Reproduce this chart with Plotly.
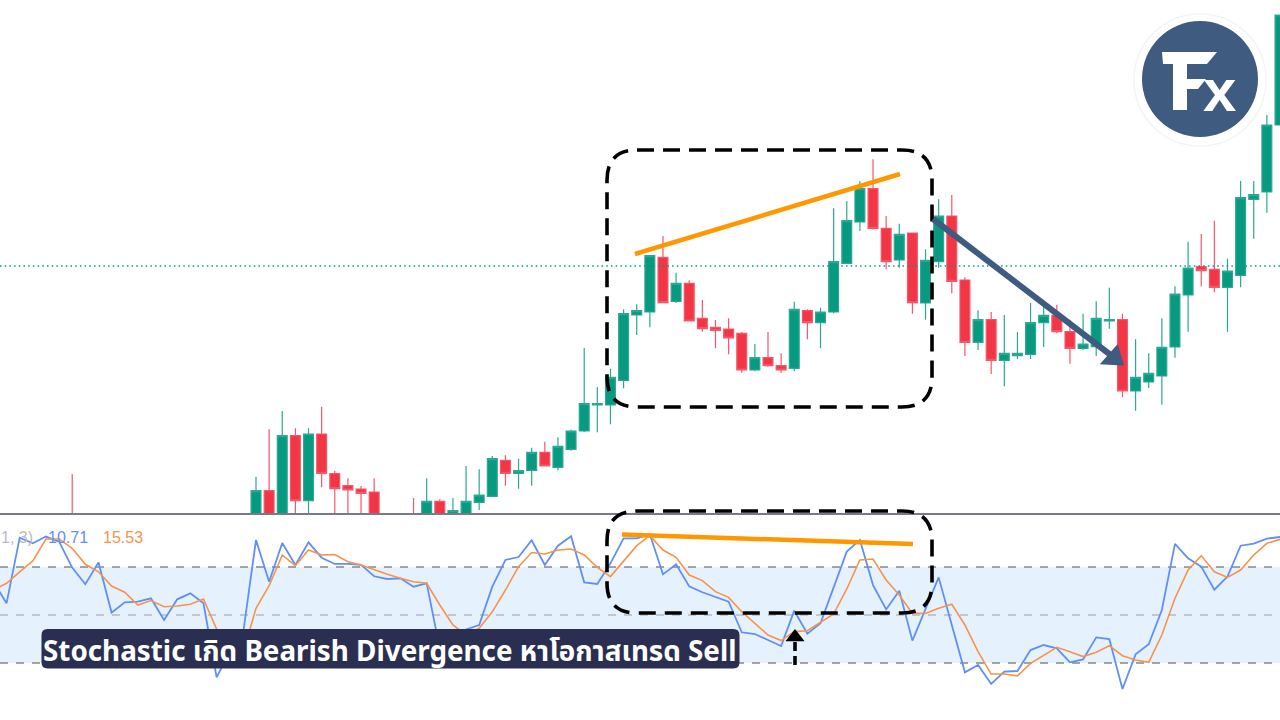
import plotly.graph_objects as go
from plotly.subplots import make_subplots

# ==========================================
# DATA (price is in chart units, stochastic in percent)
# ==========================================
CANDLE_X = [-14] + list(range(79))

OPENS = [-5,
    -15, 23.3, -20, 78.3, 13.3, 80, 40.3, 28.3, 25, 22,
    -25, -20, -5, -20, 12.7, -6, -2, 11.7, 17.7, 53.7,
    40.7, 43.7, 61.7, 46.7, 64.7, 83, 109, 109, 133.7, 199,
    202, 256.7, 212.7, 230.7, 195.7, 186.7, 185, 180.7, 144, 156.3,
    148.3, 145.7, 203.3, 191.3, 202, 250.7, 292, 325.3, 285.7, 254,
    281, 211, 252.3, 298, 234, 171.7, 194.3, 153.7, 158.3, 159.7,
    191.3, 198.7, 182.3, 165.7, 167.3, 193, 194.3, 123, 132, 138,
    167, 219, 247.3, 244.7, 226.7, 238.7, 314.7, 322, 389]
CLOSES = [-25,
    23.3, -20, 78.3, 13.3, 80, 40.7, 25.3, 24, 20.7, -10,
    -15, -16, -20, 12.7, -6, 3.3, 12.7, 19, 55.3, 40.7,
    43.3, 61.7, 48, 67.7, 83, 110.3, 110.3, 136.7, 200.3, 203.3,
    258.3, 211.3, 230.7, 193, 185.3, 183.7, 176, 144, 156.3, 148.3,
    144, 204.7, 191.3, 202, 252.3, 293.3, 325.3, 285.7, 252.3, 279.7,
    211.3, 253.7, 298, 232.7, 171.7, 194.3, 153.7, 160.7, 160.7, 191.3,
    198.7, 182.3, 165.7, 170, 195.7, 194.3, 123, 136.7, 140.7, 166.7,
    220, 246, 243.3, 226.7, 243, 316.3, 319.3, 389, 499]
HIGHS = [40,
    37.3, 84.7, 103, 85.7, 85.7, 107.3, 43.3, 35.7, 28, 35.7,
    -12, -12, 16, 35.7, 14.7, 16, 48, 44.7, 58, 58.7,
    55.3, 66.3, 72.3, 76.7, 84.3, 166, 127, 145.3, 204.7, 209.7,
    258.3, 278, 241.3, 233.7, 214, 194, 195.7, 182, 170, 182,
    160.7, 212.3, 204.7, 206.3, 305.7, 313, 332.7, 354.7, 298, 290.3,
    281, 264.7, 314.7, 319, 236.7, 203.7, 202, 199, 182, 211,
    210.7, 209.3, 194.3, 200.3, 212.7, 226.3, 200.3, 174.7, 160.7, 195.7,
    227.7, 272.3, 280, 293.3, 255.3, 333, 333, 399, 499]
LOWS = [-30,
    -20, -25, -25, -10, -10, 26.7, -5, -5, -5, -15,
    -30, -28, -25, -25, -10, -10, -5, 4, 17.7, 28.3,
    25.3, 28.3, 48, 43.7, 63.3, 81.7, 81.7, 89.7, 125.7, 179,
    186.7, 211.3, 211, 193, 182.3, 165.7, 159.7, 141.3, 142.7, 147.3,
    141.3, 142.7, 174.7, 165.7, 200.7, 250.7, 283, 284.3, 244.7, 246.3,
    200.3, 194.3, 246.3, 220.7, 158, 164, 140, 127.7, 155, 155,
    167, 180.7, 150.3, 164, 158, 185.3, 117, 103.3, 126, 109.3,
    156.3, 182.3, 227.7, 221.7, 182.3, 226.7, 275.3, 301.3, 389]

LAST_PRICE = 248

STOCH_X = list(range(-20, 79))
STOCH_K = [70.8,
    57.3, 98.3, 94.8, 99, 95.8, 79.6, 69.2, 82.9, 51.5, 57.9,
    58.3, 60.4, 46.9, 59.8, 63.5, 57.3, 11, 27, 37.5,
    96.9, 70.8, 95, 81.3, 95.4, 85.8, 81.9, 81.9, 81.3, 74.2,
    72.5, 72.9, 67.7, 69.8, 29, 27, 41, 43.7, 67.7, 84.4,
    86.2, 96.7, 81.3, 93.3, 99.2, 70.4, 69.4, 82.3, 97.9, 97.9,
    100.4, 75.4, 81.7, 67.9, 64.2, 61, 58.3, 39.2, 38.1, 34.4,
    30.6, 52.7, 38.3, 44.8, 66.7, 89.6, 96.9, 68.7, 53.5, 65.2,
    34, 54.2, 73.5, 43.75, 14.2, 18.8, 6.9, 14.6, 15, 28.1,
    31.25, 29.2, 20.4, 22.3, 36, 35, 3.75, 25.4, 31.7, 53.1,
    94.4, 85.4, 80.2, 65.8, 74, 93.3, 94.6, 97.7, 98.75]
STOCH_D = [65.6,
    69.8, 77, 83.75, 97.5, 97.5, 91.7, 81.7, 77, 68.1, 64.2,
    56.25, 59, 55.2, 55.6, 56.7, 60, 41.25, 30, 26,
    54.2, 68.3, 87.5, 80.8, 90.6, 87.5, 87.7, 83.3, 81.3, 78.1,
    75.4, 72.9, 70.8, 69.8, 56.25, 43.75, 37.5, 41.7, 52, 65.6,
    80.2, 89, 88.1, 90.6, 91.25, 87.5, 79.8, 74, 83.3, 93.3,
    99.6, 90.6, 86, 75, 71.5, 64.6, 61, 52, 44.8, 37.5,
    34, 39.6, 40.2, 45.4, 50.6, 66.25, 84.4, 85, 71.9, 62.5,
    51, 51, 54.2, 56.7, 43.75, 27.1, 13.1, 13.1, 12, 19.8,
    24.6, 29.8, 27.1, 24, 26.7, 30.8, 24.6, 21.9, 20.4, 37.5,
    60.4, 78.1, 87.1, 77, 73.5, 78.1, 87.5, 94.8, 97.3]
STOCH_LEVELS = [80, 50, 20]

# ==========================================
# STYLE
# ==========================================
WIDTH = 1280
HEIGHT = 720
UP = "#089981"
DOWN = "#F23645"
ORANGE = "#FF9800"
NAVY = "#3F5B80"
LABEL_BG = "#2A2F52"
THAI_FONT = "Noto Sans, Noto Sans Thai, Noto Sans CJK SC, sans-serif"


def px(x):
    return x / WIDTH


def py(y):
    return 1 - y / HEIGHT


def poly_path(points):
    """Closed svg path from canvas pixel points."""
    coords = [f"{px(x):.5f},{py(y):.5f}" for x, y in points]
    return "M " + " L ".join(coords) + " Z"


def rounded_rect_path(x0, y0, x1, y1, r):
    """Rounded rectangle as an svg path in paper coordinates."""
    parts = [
        ("M", x0 + r, y0), ("L", x1 - r, y0), ("Q", x1, y0, x1, y0 + r),
        ("L", x1, y1 - r), ("Q", x1, y1, x1 - r, y1), ("L", x0 + r, y1),
        ("Q", x0, y1, x0, y1 - r), ("L", x0, y0 + r), ("Q", x0, y0, x0 + r, y0),
    ]
    out = []
    for p in parts:
        if p[0] == "Q":
            out.append(f"Q {px(p[1]):.5f},{py(p[2]):.5f} {px(p[3]):.5f},{py(p[4]):.5f}")
        else:
            out.append(f"{p[0]} {px(p[1]):.5f},{py(p[2]):.5f}")
    return " ".join(out) + " Z"


def paper_line(fig, x0, y0, x1, y1, color, width, dash="solid"):
    fig.add_shape(type="line", xref="paper", yref="paper",
                  x0=px(x0), y0=py(y0), x1=px(x1), y1=py(y1),
                  line=dict(color=color, width=width, dash=dash))


def paper_path(fig, path, fill=None, color=None, width=0, dash="solid"):
    fig.add_shape(type="path", xref="paper", yref="paper", path=path,
                  fillcolor=fill or "rgba(0,0,0,0)",
                  line=dict(color=color or "rgba(0,0,0,0)", width=width, dash=dash))


def paper_text(fig, x, y, text, size, color, family, xanchor="left", bold=False):
    fig.add_annotation(xref="paper", yref="paper", x=px(x), y=py(y), text=f"<b>{text}</b>" if bold else text,
                       showarrow=False, xanchor=xanchor, yanchor="middle",
                       font=dict(size=size, color=color, family=family))


fig = make_subplots(rows=2, cols=1, shared_xaxes=True, vertical_spacing=0,
                    row_heights=[514, 206])

fig.add_trace(go.Candlestick(
    x=CANDLE_X, open=OPENS, high=HIGHS, low=LOWS, close=CLOSES,
    increasing=dict(line=dict(color="#2BA893", width=1.2), fillcolor=UP),
    decreasing=dict(line=dict(color="#F5566A", width=1.2), fillcolor=DOWN),
    whiskerwidth=0, showlegend=False,
), row=1, col=1)

fig.add_trace(go.Scatter(x=STOCH_X, y=STOCH_K, mode="lines", showlegend=False,
                         line=dict(color="#5F8FF7", width=1.8)), row=2, col=1)
fig.add_trace(go.Scatter(x=STOCH_X, y=STOCH_D, mode="lines", showlegend=False,
                         line=dict(color="#F9924A", width=1.6)), row=2, col=1)

# stochastic band and levels
fig.add_hrect(y0=STOCH_LEVELS[2], y1=STOCH_LEVELS[0], fillcolor="#E5F2FD", line_width=0,
              layer="below", row=2, col=1)
for level in STOCH_LEVELS:
    color = "#B7BAC2" if level == 50 else "#85888F"
    fig.add_hline(y=level, line=dict(color=color, width=1.3, dash="8px,8px"),
                  layer="below", row=2, col=1)

# last price line
fig.add_hline(y=LAST_PRICE, line=dict(color=UP, width=1.5, dash="1.5px,3.2px"), row=1, col=1)

# pane separator
paper_line(fig, 0, 514, WIDTH, 514, "#787B86", 2)

# divergence boxes and trend lines
paper_path(fig, rounded_rect_path(607, 150, 932, 407, 30), color="black", width=3.6, dash="17px,9px")
paper_path(fig, rounded_rect_path(607, 511, 932, 613, 30), color="black", width=3.6, dash="17px,9px")
paper_line(fig, 635, 254, 900, 174, ORANGE, 4.5)
paper_line(fig, 622, 534.5, 913, 544, ORANGE, 4.5)

# sell arrow
paper_line(fig, 933, 219, 1112, 356, NAVY, 6)
paper_path(fig, poly_path([(1122, 364), (1103, 363), (1117, 347)]), fill=NAVY, color=NAVY, width=3)

# small up arrow under the box
paper_line(fig, 795, 642, 795, 667, "black", 3.6, dash="9px,5px")
paper_path(fig, poly_path([(795, 631), (802, 640), (788, 640)]), fill="black", color="black", width=2.5)

# caption
paper_path(fig, rounded_rect_path(41.5, 629, 739.5, 668.5, 6), fill=LABEL_BG)
paper_text(fig, 41, 649.5, "Stochastic เกิด Bearish Divergence หาโอกาสเทรด Sell", 27.8, "white", THAI_FONT, bold=True)

# indicator values
paper_text(fig, -1, 537, "1, 3)", 16, "#B8BBC3", "Liberation Sans")
paper_text(fig, 46, 537, "10.71", 16, "#5F8FF7", "Liberation Sans")
paper_text(fig, 101, 537, "15.53", 16, "#F9924A", "Liberation Sans")

# logo
fig.add_shape(type="circle", xref="paper", yref="paper",
              x0=px(1134), y0=py(146), x1=px(1266), y1=py(14),
              fillcolor="white", line=dict(color="#F4F4F4", width=1.5))
fig.add_shape(type="circle", xref="paper", yref="paper",
              x0=px(1142), y0=py(137), x1=px(1258), y1=py(21),
              fillcolor=NAVY, line_width=0)
paper_path(fig, poly_path([(1162, 52), (1217, 52), (1207, 64), (1187, 64), (1187, 79), (1206, 79),
                           (1198, 89), (1187, 89), (1187, 110), (1173, 110), (1173, 64), (1163, 64)]),
           fill="white")
paper_text(fig, 1219, 90, "x", 60, "white", "Liberation Sans", xanchor="center", bold=True)

fig.update_layout(
    width=WIDTH, height=HEIGHT,
    margin=dict(l=0, r=0, t=0, b=0),
    paper_bgcolor="white", plot_bgcolor="white",
    showlegend=False, boxgap=0.25, boxgroupgap=0, hovermode=False,
)
fig.update_xaxes(range=[-19.5, 78], visible=False, rangeslider_visible=False)
fig.update_yaxes(range=[0, 514], visible=False, row=1, col=1)
fig.update_yaxes(range=[-15.6, 113.1], visible=False, row=2, col=1)

fig.write_html("out.html", config={"displayModeBar": False},
               post_script="document.body.style.margin='0';")
